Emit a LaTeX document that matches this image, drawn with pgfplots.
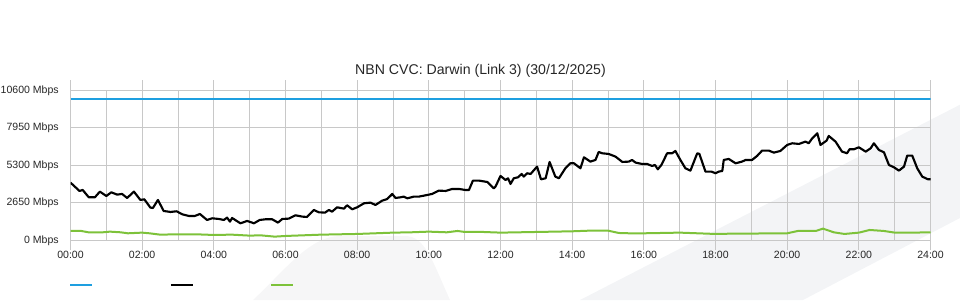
\documentclass[border=0pt]{standalone}
\usepackage{pgfplots}
\pgfplotsset{compat=1.18}
\usepackage{fontspec}
\setmainfont{Liberation Sans}
\definecolor{cvcblue}{HTML}{1E9FE0}
\definecolor{cvcgreen}{HTML}{7DC23A}
\definecolor{gridgray}{HTML}{C8C8C8}
\definecolor{wm}{HTML}{F3F4F6}
\definecolor{wmlight}{HTML}{F6F6F7}
\begin{document}
\begin{tikzpicture}[x=0.75pt,y=0.75pt]
\path[use as bounding box] (0,0) rectangle (960,300);
% faint background watermark
\fill[wm] (580,0) -- (960,195.3) -- (960,82) -- (803,0) -- cycle;
\fill[wmlight] (253,0) .. controls (285,30) and (310,64) .. (340,64) -- (405,64) .. controls (425,64) and (432,40) .. (450,0) -- cycle;
\begin{axis}[
  at={(52.875pt,44.775pt)}, anchor=south west,
  scale only axis, width=645pt, height=112.5pt,
  xmin=0, xmax=24, ymin=0, ymax=10600,
  scaled y ticks=false, scaled x ticks=false,
  xtick={0,2,...,24},
  xticklabels={00:00,02:00,04:00,06:00,08:00,10:00,12:00,14:00,16:00,18:00,20:00,22:00,24:00},
  minor xtick={1,3,...,23},
  ytick={0,2650,5300,7950,10600},
  yticklabels={0 Mbps,2650 Mbps,5300 Mbps,7950 Mbps,10600 Mbps},
  grid=both,
  major grid style={gridgray, line width=0.75pt},
  minor grid style={gridgray, line width=0.75pt},
  axis line style={gridgray, line width=0.75pt},
  tick align=outside,
  major tick length=7.5pt,
  minor tick length=0pt,
  xtick style={gridgray, line width=0.75pt},
  ytick style={draw=none},
  ticklabel style={font=\fontsize{7.9}{9}\selectfont, text=black!85},
  yticklabel style={xshift=2.2pt},
  xticklabel style={yshift=3pt},
  title={NBN CVC: Darwin (Link 3) (30/12/2025)},
  title style={font=\fontsize{10.6}{12}\selectfont, anchor=base, yshift=5.5pt, xshift=-15pt, text=black!85},
  legend style={at={(axis description cs:-0.0015,-0.3)}, anchor=west, draw=none, fill=none,
    inner sep=0pt, outer sep=0pt, legend columns=3, column sep=0pt,
    nodes={inner sep=0pt, outer sep=0pt},
    /tikz/every even column/.append style={column sep=56.3pt}},
  legend image code/.code={\draw[#1, line width=1.6pt] (0pt,0pt) -- (16.5pt,0pt);},
]
\addplot[cvcblue, line width=1.6pt] coordinates {(0,10000) (24,10000)};
\addlegendentry{}
\addplot[black, line width=1.6pt, line join=round] coordinates {
(0,4076) (0.25,3487) (0.34,3557) (0.51,3039) (0.68,3039) (0.82,3440) (1.0,3133) (1.14,3392)
(1.30,3228) (1.44,3275) (1.58,2992) (1.77,3440) (1.95,2851) (2.06,2898) (2.23,2309) (2.30,2285)
(2.44,2851) (2.60,2073) (2.79,2003) (2.96,2050) (3.12,1838) (3.30,1720) (3.47,1720) (3.61,1861)
(3.81,1437) (3.95,1555) (4.14,1508) (4.28,1437) (4.37,1602) (4.45,1319) (4.51,1578) (4.74,1202)
(4.93,1366) (5.12,1202) (5.28,1437) (5.44,1484) (5.63,1484) (5.79,1249) (5.91,1508) (6.09,1531)
(6.28,1767) (6.47,1673) (6.60,1649) (6.79,2144) (6.93,1979) (7.10,1955) (7.21,2144) (7.30,2026)
(7.44,2332) (7.63,2238) (7.72,2474) (7.86,2191) (8.0,2332) (8.19,2615) (8.37,2662) (8.51,2497)
(8.70,2804) (8.84,2921) (8.98,3275) (9.07,2992) (9.21,3039) (9.30,3086) (9.40,2968) (9.58,3086)
(9.72,3086) (9.91,3180) (10.09,3275) (10.28,3510) (10.47,3487) (10.65,3628) (10.84,3628) (11.02,3557)
(11.12,3557) (11.23,4217) (11.40,4217) (11.63,4123) (11.81,3675) (11.86,3793) (12.0,4547) (12.14,4264)
(12.21,4382) (12.28,3981) (12.37,4382) (12.49,4453) (12.59,4688) (12.65,4500) (12.74,4736) (12.84,4688)
(13.02,5207) (13.13,4311) (13.26,4382) (13.37,5537) (13.53,4500) (13.63,4382) (13.81,5089) (13.95,5442)
(14.05,5442) (14.23,5089) (14.33,5866) (14.51,5560) (14.65,5678) (14.74,6243) (14.84,6149) (15.02,6102)
(15.21,5913) (15.40,5537) (15.58,5560) (15.67,5678) (15.77,5489) (15.95,5395) (16.09,5395) (16.23,5254)
(16.31,5324) (16.39,5018) (16.49,5324) (16.65,6149) (16.79,6149) (16.88,6314) (17.02,5678) (17.16,5089)
(17.30,4924) (17.49,6149) (17.55,6102) (17.72,4853) (17.89,4853) (18.0,4736) (18.09,4853) (18.19,4900)
(18.23,5678) (18.37,5749) (18.56,5442) (18.74,5560) (18.84,5678) (19.02,5678) (19.16,5961) (19.30,6338)
(19.49,6338) (19.63,6196) (19.81,6314) (20.0,6738) (20.14,6856) (20.33,6809) (20.51,6974) (20.60,6856)
(20.70,7209) (20.84,7563) (20.93,6738) (21.10,7044) (21.16,7374) (21.35,6974) (21.53,6267) (21.67,6149)
(21.74,6432) (21.86,6432) (22.0,6573) (22.19,6267) (22.33,6503) (22.42,6856) (22.56,6385) (22.70,6220)
(22.84,5324) (22.98,5160) (23.12,4924) (23.26,5207) (23.35,5984) (23.49,5984) (23.63,5089) (23.77,4500)
(23.93,4311) (24.0,4311)
};
\addlegendentry{}
\addplot[cvcgreen, line width=1.5pt, line join=round] coordinates {
(0,660) (0.3,660) (0.5,565) (0.9,565) (1.1,612) (1.4,565) (1.6,495) (2.0,542) (2.2,495) (2.5,400)
(3.0,424) (3.5,424) (4.0,377) (4.5,400) (5.0,330) (5.3,353) (5.5,306) (5.7,259) (6.0,306) (6.5,353)
(7.0,400) (7.5,424) (8.0,448) (8.5,495) (9.0,542) (9.5,565) (10.0,612) (10.5,565) (10.8,660) (11.0,590)
(11.5,590) (12.0,542) (12.5,565) (13.0,589) (13.5,612) (14.0,636) (14.5,683) (15.0,683) (15.3,518)
(15.6,495) (16.0,495) (16.5,518) (17.0,542) (17.5,495) (18.0,448) (18.5,471) (19.0,471) (19.5,495)
(20.0,495) (20.3,660) (20.8,660) (21.0,825) (21.3,565) (21.6,448) (22.0,542) (22.3,730) (22.7,660)
(23.0,542) (23.5,542) (24.0,565)
};
\addlegendentry{}
\end{axis}
\end{tikzpicture}
\end{document}
